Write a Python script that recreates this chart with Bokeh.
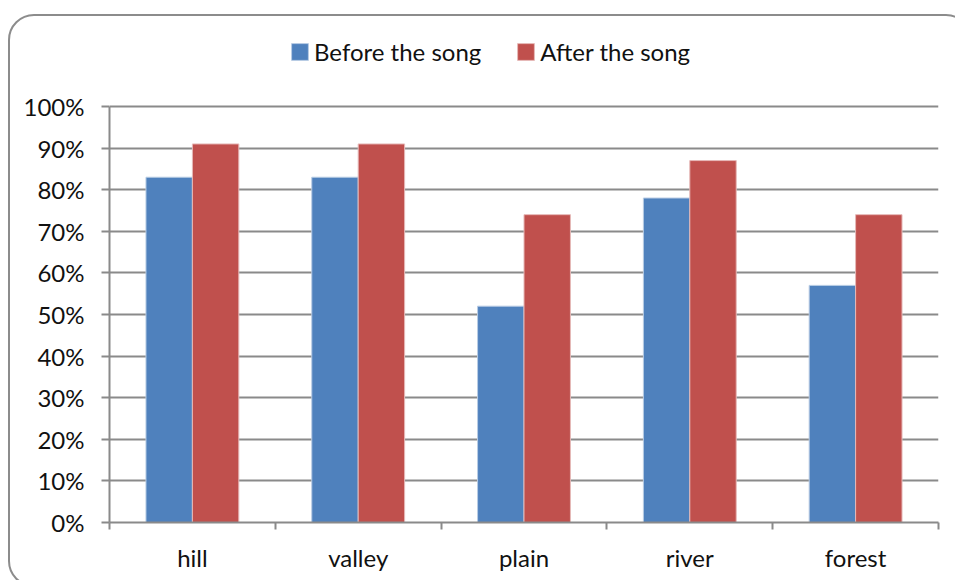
from bokeh.plotting import figure
from bokeh.models import (ColumnDataSource, FixedTicker, NumeralTickFormatter,
                          Legend, LegendItem, Range1d, GlobalInlineStyleSheet)
from bokeh.transform import dodge
from bokeh.embed import file_html
from bokeh.resources import INLINE

# Share of correct answers per landform word, before and after the song
categories = ["hill", "valley", "plain", "river", "forest"]
before_song = [0.83, 0.83, 0.52, 0.78, 0.57]
after_song = [0.91, 0.91, 0.74, 0.87, 0.74]
y_ticks = [0.0, 0.1, 0.2, 0.3, 0.4, 0.5, 0.6, 0.7, 0.8, 0.9, 1.0]

FONT = "Lato"
FONT_SIZE = "24px"
GRID = "#8a8a8a"
BLUE = "#4F81BD"
RED = "#C0504D"

centers = [i + 0.5 for i in range(len(categories))]
source = ColumnDataSource(dict(x=centers, before=before_song, after=after_song))

# rounded border around the whole chart area
chart_border = GlobalInlineStyleSheet(css="""
body { overflow: hidden; }
body::after {
  content: ""; position: fixed; left: 8px; top: 14px;
  width: 964px; height: 573px; box-sizing: border-box;
  border: 2px solid #8c8c8c; border-radius: 26px;
  pointer-events: none;
}
""")

# the frame reaches up to hold the legend; the value axis itself stops at 100%
top_px, bottom_px, plot_px = 10, 522, 416
p = figure(width=955, height=580, output_backend="svg", toolbar_location=None,
           x_range=Range1d(0, len(categories)),
           y_range=Range1d(0, (bottom_px - top_px) / plot_px),
           min_border_left=109, min_border_right=17,
           min_border_top=top_px, min_border_bottom=580 - bottom_px,
           stylesheets=[chart_border])
p.outline_line_color = None
p.background_fill_color = "white"
p.border_fill_color = "white"

bar_w = 0.28
r_before = p.vbar(x=dodge("x", -bar_w / 2, range=p.x_range), top="before", width=bar_w,
                  source=source, fill_color=BLUE, line_color="#b8cce4", line_width=1)
r_after = p.vbar(x=dodge("x", bar_w / 2, range=p.x_range), top="after", width=bar_w,
                 source=source, fill_color=RED, line_color="#e6b9b8", line_width=1)

# x axis: labels under each group, short ticks between groups
p.xaxis.ticker = FixedTicker(ticks=centers, minor_ticks=list(range(len(categories) + 1)))
p.xaxis.major_label_overrides = {c: name for c, name in zip(centers, categories)}
p.xaxis.major_tick_out = 0
p.xaxis.major_tick_in = 0
p.xaxis.minor_tick_out = 7
p.xaxis.minor_tick_in = 0
p.xaxis.minor_tick_line_color = GRID
p.xaxis.minor_tick_line_width = 2
p.xaxis.major_label_standoff = 13

p.yaxis.ticker = FixedTicker(ticks=y_ticks)
p.yaxis.bounds = (0, 1)
p.yaxis.formatter = NumeralTickFormatter(format="0%")
p.yaxis.major_tick_out = 8
p.yaxis.major_tick_in = 0
p.yaxis.minor_tick_line_color = None
p.yaxis.major_label_standoff = 17
p.yaxis.major_tick_line_color = GRID
p.yaxis.major_tick_line_width = 2

for ax in (p.xaxis, p.yaxis):
    ax.axis_line_color = GRID
    ax.axis_line_width = 2
    ax.major_label_text_font = FONT
    ax.major_label_text_font_size = FONT_SIZE
    ax.major_label_text_color = "#111111"

p.xgrid.grid_line_color = None
p.ygrid.ticker = FixedTicker(ticks=y_ticks)
p.ygrid.grid_line_color = GRID
p.ygrid.grid_line_width = 2

legend = Legend(items=[LegendItem(label="Before the song", renderers=[r_before]),
                       LegendItem(label="After the song", renderers=[r_after])],
                orientation="horizontal", location=(180, bottom_px - 66),
                glyph_width=21, glyph_height=21, label_standoff=4, spacing=34,
                padding=0, margin=0, border_line_color=None,
                background_fill_alpha=0,
                label_text_font=FONT, label_text_font_size=FONT_SIZE,
                label_text_color="#111111")
p.add_layout(legend, "center")

open("out.html", "w").write(file_html(p, INLINE))
